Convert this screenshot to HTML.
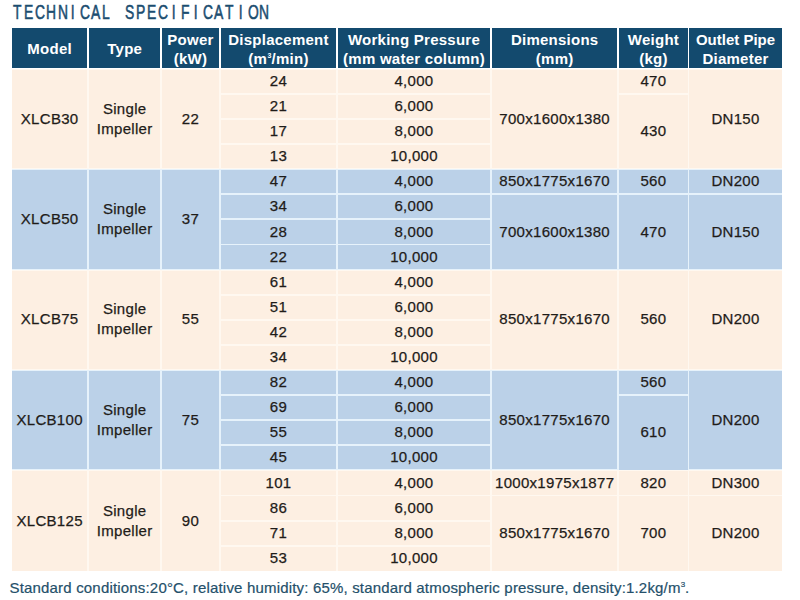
<!DOCTYPE html>
<html><head><meta charset="utf-8"><style>
html,body{margin:0;padding:0;background:#fff;width:800px;height:600px;overflow:hidden;position:relative}
body{font-family:"Liberation Sans",sans-serif}
.title{position:absolute;left:10.9px;top:-0.1px;font-size:21px;color:#1b4d70;white-space:nowrap;line-height:24px}
.title span{display:inline-block;width:11.2px;text-align:center;transform:scaleX(0.66);-webkit-text-stroke:0.6px #1b4d70}
.c{position:absolute;display:flex;align-items:center;justify-content:center;text-align:center;box-sizing:border-box;white-space:nowrap}
.h{color:#fff;font-weight:bold;font-size:15px;letter-spacing:0.25px;line-height:19px}
.h > span{position:relative;top:0.6px}
.b > span{position:relative;top:-0.4px;-webkit-text-stroke:0.25px #1f1c19}
.h sup{font-size:7px;vertical-align:top;line-height:10px;position:relative;top:2.5px;letter-spacing:0;margin:0 0.3px}
.b{color:#1f1c19;font-size:15px;letter-spacing:0.3px;line-height:20px}
.foot{position:absolute;left:9.5px;top:578.2px;font-size:15px;color:#24506a;-webkit-text-stroke:0.2px #24506a;white-space:nowrap;letter-spacing:0.18px;line-height:20px}
.foot sup{font-size:8px;vertical-align:top;line-height:10px;position:relative;top:2px;letter-spacing:0}
</style></head><body>
<div class="title"><span>T</span><span>E</span><span>C</span><span>H</span><span>N</span><span>I</span><span>C</span><span>A</span><span>L</span><span>&nbsp;</span><span>S</span><span>P</span><span>E</span><span>C</span><span>I</span><span>F</span><span>I</span><span>C</span><span>A</span><span>T</span><span>I</span><span>O</span><span>N</span></div>
<div class="c h" style="left:11.80px;top:28.00px;width:75.70px;height:39.90px;background:#134a6e"><span>Model</span></div>
<div class="c h" style="left:89.30px;top:28.00px;width:70.80px;height:39.90px;background:#134a6e"><span>Type</span></div>
<div class="c h" style="left:161.90px;top:28.00px;width:57.10px;height:39.90px;background:#134a6e"><span>Power<br>(kW)</span></div>
<div class="c h" style="left:220.80px;top:28.00px;width:115.40px;height:39.90px;background:#134a6e"><span>Displacement<br>(m<sup>3</sup>/min)</span></div>
<div class="c h" style="left:338.00px;top:28.00px;width:152.00px;height:39.90px;background:#134a6e"><span>Working Pressure<br>(mm water column)</span></div>
<div class="c h" style="left:491.80px;top:28.00px;width:125.70px;height:39.90px;background:#134a6e"><span>Dimensions<br>(mm)</span></div>
<div class="c h" style="left:619.30px;top:28.00px;width:68.30px;height:39.90px;background:#134a6e"><span>Weight<br>(kg)</span></div>
<div class="c h" style="left:689.40px;top:28.00px;width:92.30px;height:39.90px;background:#134a6e"><span><span style="letter-spacing:0">Outlet Pipe</span><br>Diameter</span></div>
<div style="position:absolute;left:11.8px;top:68.80px;width:769.9000000000001px;height:100.40px;background:#fff8f0"></div>
<div class="c b" style="left:11.80px;top:69.70px;width:75.70px;height:98.60px;background:#fdefe2"><span>XLCB30</span></div>
<div class="c b t" style="left:89.30px;top:69.70px;width:70.80px;height:98.60px;background:#fdefe2"><span>Single<br>Impeller</span></div>
<div class="c b" style="left:161.90px;top:69.70px;width:57.10px;height:98.60px;background:#fdefe2"><span>22</span></div>
<div class="c b" style="left:220.80px;top:69.70px;width:115.40px;height:23.30px;background:#fdefe2"><span>24</span></div>
<div class="c b" style="left:338.00px;top:69.70px;width:152.00px;height:23.30px;background:#fdefe2"><span>4,000</span></div>
<div class="c b" style="left:220.80px;top:94.80px;width:115.40px;height:23.30px;background:#fdefe2"><span>21</span></div>
<div class="c b" style="left:338.00px;top:94.80px;width:152.00px;height:23.30px;background:#fdefe2"><span>6,000</span></div>
<div class="c b" style="left:220.80px;top:119.90px;width:115.40px;height:23.30px;background:#fdefe2"><span>17</span></div>
<div class="c b" style="left:338.00px;top:119.90px;width:152.00px;height:23.30px;background:#fdefe2"><span>8,000</span></div>
<div class="c b" style="left:220.80px;top:145.00px;width:115.40px;height:23.30px;background:#fdefe2"><span>13</span></div>
<div class="c b" style="left:338.00px;top:145.00px;width:152.00px;height:23.30px;background:#fdefe2"><span>10,000</span></div>
<div class="c b" style="left:491.80px;top:69.70px;width:125.70px;height:98.60px;background:#fdefe2"><span>700x1600x1380</span></div>
<div class="c b" style="left:619.30px;top:69.70px;width:68.30px;height:23.30px;background:#fdefe2"><span>470</span></div>
<div class="c b" style="left:619.30px;top:94.80px;width:68.30px;height:73.50px;background:#fdefe2"><span>430</span></div>
<div class="c b" style="left:689.40px;top:69.70px;width:92.30px;height:98.60px;background:#fdefe2"><span>DN150</span></div>
<div style="position:absolute;left:11.8px;top:169.20px;width:769.9000000000001px;height:100.40px;background:#e6f2fb"></div>
<div class="c b" style="left:11.80px;top:170.10px;width:75.70px;height:98.60px;background:#bbd1e8"><span>XLCB50</span></div>
<div class="c b t" style="left:89.30px;top:170.10px;width:70.80px;height:98.60px;background:#bbd1e8"><span>Single<br>Impeller</span></div>
<div class="c b" style="left:161.90px;top:170.10px;width:57.10px;height:98.60px;background:#bbd1e8"><span>37</span></div>
<div class="c b" style="left:220.80px;top:170.10px;width:115.40px;height:23.30px;background:#bbd1e8"><span>47</span></div>
<div class="c b" style="left:338.00px;top:170.10px;width:152.00px;height:23.30px;background:#bbd1e8"><span>4,000</span></div>
<div class="c b" style="left:220.80px;top:195.20px;width:115.40px;height:23.30px;background:#bbd1e8"><span>34</span></div>
<div class="c b" style="left:338.00px;top:195.20px;width:152.00px;height:23.30px;background:#bbd1e8"><span>6,000</span></div>
<div class="c b" style="left:220.80px;top:220.30px;width:115.40px;height:23.30px;background:#bbd1e8"><span>28</span></div>
<div class="c b" style="left:338.00px;top:220.30px;width:152.00px;height:23.30px;background:#bbd1e8"><span>8,000</span></div>
<div class="c b" style="left:220.80px;top:245.40px;width:115.40px;height:23.30px;background:#bbd1e8"><span>22</span></div>
<div class="c b" style="left:338.00px;top:245.40px;width:152.00px;height:23.30px;background:#bbd1e8"><span>10,000</span></div>
<div class="c b" style="left:491.80px;top:170.10px;width:125.70px;height:23.30px;background:#bbd1e8"><span>850x1775x1670</span></div>
<div class="c b" style="left:491.80px;top:195.20px;width:125.70px;height:73.50px;background:#bbd1e8"><span>700x1600x1380</span></div>
<div class="c b" style="left:619.30px;top:170.10px;width:68.30px;height:23.30px;background:#bbd1e8"><span>560</span></div>
<div class="c b" style="left:619.30px;top:195.20px;width:68.30px;height:73.50px;background:#bbd1e8"><span>470</span></div>
<div class="c b" style="left:689.40px;top:170.10px;width:92.30px;height:23.30px;background:#bbd1e8"><span>DN200</span></div>
<div class="c b" style="left:689.40px;top:195.20px;width:92.30px;height:73.50px;background:#bbd1e8"><span>DN150</span></div>
<div style="position:absolute;left:11.8px;top:269.60px;width:769.9000000000001px;height:100.40px;background:#fff8f0"></div>
<div class="c b" style="left:11.80px;top:270.50px;width:75.70px;height:98.60px;background:#fdefe2"><span>XLCB75</span></div>
<div class="c b t" style="left:89.30px;top:270.50px;width:70.80px;height:98.60px;background:#fdefe2"><span>Single<br>Impeller</span></div>
<div class="c b" style="left:161.90px;top:270.50px;width:57.10px;height:98.60px;background:#fdefe2"><span>55</span></div>
<div class="c b" style="left:220.80px;top:270.50px;width:115.40px;height:23.30px;background:#fdefe2"><span>61</span></div>
<div class="c b" style="left:338.00px;top:270.50px;width:152.00px;height:23.30px;background:#fdefe2"><span>4,000</span></div>
<div class="c b" style="left:220.80px;top:295.60px;width:115.40px;height:23.30px;background:#fdefe2"><span>51</span></div>
<div class="c b" style="left:338.00px;top:295.60px;width:152.00px;height:23.30px;background:#fdefe2"><span>6,000</span></div>
<div class="c b" style="left:220.80px;top:320.70px;width:115.40px;height:23.30px;background:#fdefe2"><span>42</span></div>
<div class="c b" style="left:338.00px;top:320.70px;width:152.00px;height:23.30px;background:#fdefe2"><span>8,000</span></div>
<div class="c b" style="left:220.80px;top:345.80px;width:115.40px;height:23.30px;background:#fdefe2"><span>34</span></div>
<div class="c b" style="left:338.00px;top:345.80px;width:152.00px;height:23.30px;background:#fdefe2"><span>10,000</span></div>
<div class="c b" style="left:491.80px;top:270.50px;width:125.70px;height:98.60px;background:#fdefe2"><span>850x1775x1670</span></div>
<div class="c b" style="left:619.30px;top:270.50px;width:68.30px;height:98.60px;background:#fdefe2"><span>560</span></div>
<div class="c b" style="left:689.40px;top:270.50px;width:92.30px;height:98.60px;background:#fdefe2"><span>DN200</span></div>
<div style="position:absolute;left:11.8px;top:370.00px;width:769.9000000000001px;height:100.40px;background:#e6f2fb"></div>
<div class="c b" style="left:11.80px;top:370.90px;width:75.70px;height:98.60px;background:#bbd1e8"><span>XLCB100</span></div>
<div class="c b t" style="left:89.30px;top:370.90px;width:70.80px;height:98.60px;background:#bbd1e8"><span>Single<br>Impeller</span></div>
<div class="c b" style="left:161.90px;top:370.90px;width:57.10px;height:98.60px;background:#bbd1e8"><span>75</span></div>
<div class="c b" style="left:220.80px;top:370.90px;width:115.40px;height:23.30px;background:#bbd1e8"><span>82</span></div>
<div class="c b" style="left:338.00px;top:370.90px;width:152.00px;height:23.30px;background:#bbd1e8"><span>4,000</span></div>
<div class="c b" style="left:220.80px;top:396.00px;width:115.40px;height:23.30px;background:#bbd1e8"><span>69</span></div>
<div class="c b" style="left:338.00px;top:396.00px;width:152.00px;height:23.30px;background:#bbd1e8"><span>6,000</span></div>
<div class="c b" style="left:220.80px;top:421.10px;width:115.40px;height:23.30px;background:#bbd1e8"><span>55</span></div>
<div class="c b" style="left:338.00px;top:421.10px;width:152.00px;height:23.30px;background:#bbd1e8"><span>8,000</span></div>
<div class="c b" style="left:220.80px;top:446.20px;width:115.40px;height:23.30px;background:#bbd1e8"><span>45</span></div>
<div class="c b" style="left:338.00px;top:446.20px;width:152.00px;height:23.30px;background:#bbd1e8"><span>10,000</span></div>
<div class="c b" style="left:491.80px;top:370.90px;width:125.70px;height:98.60px;background:#bbd1e8"><span>850x1775x1670</span></div>
<div class="c b" style="left:619.30px;top:370.90px;width:68.30px;height:23.30px;background:#bbd1e8"><span>560</span></div>
<div class="c b" style="left:619.30px;top:396.00px;width:68.30px;height:73.50px;background:#bbd1e8"><span>610</span></div>
<div class="c b" style="left:689.40px;top:370.90px;width:92.30px;height:98.60px;background:#bbd1e8"><span>DN200</span></div>
<div style="position:absolute;left:11.8px;top:470.40px;width:769.9000000000001px;height:100.40px;background:#fff8f0"></div>
<div class="c b" style="left:11.80px;top:471.30px;width:75.70px;height:99.50px;background:#fdefe2"><span>XLCB125</span></div>
<div class="c b t" style="left:89.30px;top:471.30px;width:70.80px;height:99.50px;background:#fdefe2"><span>Single<br>Impeller</span></div>
<div class="c b" style="left:161.90px;top:471.30px;width:57.10px;height:99.50px;background:#fdefe2"><span>90</span></div>
<div class="c b" style="left:220.80px;top:471.30px;width:115.40px;height:23.30px;background:#fdefe2"><span>101</span></div>
<div class="c b" style="left:338.00px;top:471.30px;width:152.00px;height:23.30px;background:#fdefe2"><span>4,000</span></div>
<div class="c b" style="left:220.80px;top:496.40px;width:115.40px;height:23.30px;background:#fdefe2"><span>86</span></div>
<div class="c b" style="left:338.00px;top:496.40px;width:152.00px;height:23.30px;background:#fdefe2"><span>6,000</span></div>
<div class="c b" style="left:220.80px;top:521.50px;width:115.40px;height:23.30px;background:#fdefe2"><span>71</span></div>
<div class="c b" style="left:338.00px;top:521.50px;width:152.00px;height:23.30px;background:#fdefe2"><span>8,000</span></div>
<div class="c b" style="left:220.80px;top:546.60px;width:115.40px;height:24.20px;background:#fdefe2"><span>53</span></div>
<div class="c b" style="left:338.00px;top:546.60px;width:152.00px;height:24.20px;background:#fdefe2"><span>10,000</span></div>
<div class="c b" style="left:491.80px;top:471.30px;width:125.70px;height:23.30px;background:#fdefe2"><span>1000x1975x1877</span></div>
<div class="c b" style="left:491.80px;top:496.40px;width:125.70px;height:74.40px;background:#fdefe2"><span>850x1775x1670</span></div>
<div class="c b" style="left:619.30px;top:471.30px;width:68.30px;height:23.30px;background:#fdefe2"><span>820</span></div>
<div class="c b" style="left:619.30px;top:496.40px;width:68.30px;height:74.40px;background:#fdefe2"><span>700</span></div>
<div class="c b" style="left:689.40px;top:471.30px;width:92.30px;height:23.30px;background:#fdefe2"><span>DN300</span></div>
<div class="c b" style="left:689.40px;top:496.40px;width:92.30px;height:74.40px;background:#fdefe2"><span>DN200</span></div>
<div class="foot">Standard conditions:20°C, relative humidity: 65%, standard atmospheric pressure, density:1.2kg/m<sup>3</sup>.</div>
</body></html>
